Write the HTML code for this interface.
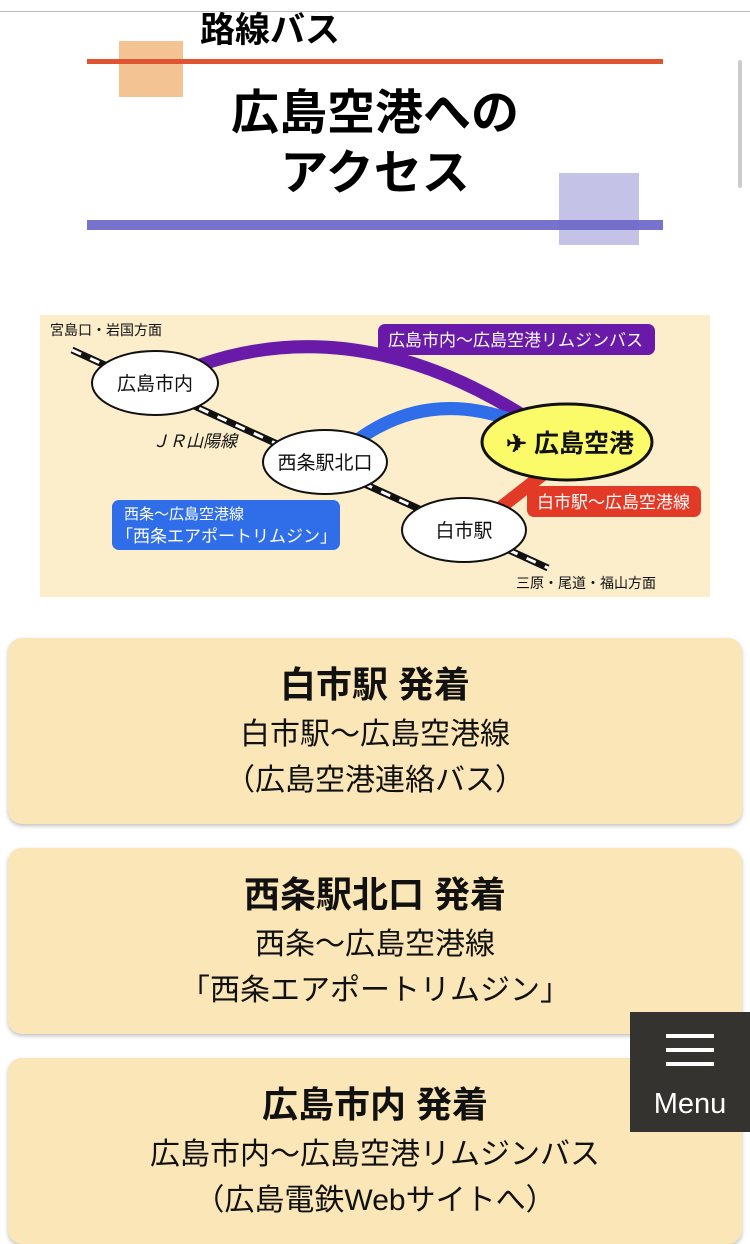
<!DOCTYPE html>
<html><head><meta charset="utf-8"><style>
body{margin:0;width:750px;height:1244px;overflow:hidden;background:#fff;font-family:"Liberation Sans","Noto Sans CJK JP",sans-serif;position:relative}
.a{position:absolute}
.card{position:absolute;left:8px;width:734px;height:186px;background:#fae6b6;border-radius:14px;box-shadow:0 2px 4px rgba(0,0,0,.25);text-align:center;color:#111}
.card b{display:block;font-size:36px;margin-top:24px;line-height:46px;margin-bottom:4px}
.card span{display:block;font-size:30px;line-height:46px}
</style></head><body>
<div class="a" style="left:0;top:11px;width:750px;height:1px;background:#bbb"></div>
<div class="a" style="left:738px;top:60px;width:4px;height:128px;background:#ccc;border-radius:2px"></div>
<div class="a" style="left:119px;top:41px;width:64px;height:56px;background:#f3c394"></div>
<div class="a" style="left:87px;top:59px;width:576px;height:5px;background:#e05432"></div>
<div class="a" style="left:200px;top:8px;font-size:35px;font-weight:bold;line-height:46px">路線バス</div>
<div class="a" style="left:0;top:84px;width:750px;text-align:center;font-size:48px;font-weight:bold;line-height:60px">広島空港への<br>アクセス</div>
<div class="a" style="left:559px;top:173px;width:80px;height:72px;background:#c4c3e7"></div>
<div class="a" style="left:87px;top:220px;width:576px;height:10px;background:#706ac8;opacity:.95"></div>
<svg class="a" style="left:0;top:0" width="750" height="620">
<rect x="40" y="315" width="670" height="282" fill="#fcedcb"/>
<line x1="72" y1="350" x2="548" y2="568" stroke="#111" stroke-width="7"/>
<line x1="72" y1="350" x2="548" y2="568" stroke="#fff" stroke-width="3" stroke-dasharray="10 10"/>
<path d="M200 365 Q360 310 530 420" stroke="#6a1aa8" stroke-width="13" fill="none"/>
<path d="M355 442 Q430 385 525 425" stroke="#2f6ee8" stroke-width="13" fill="none"/>
<line x1="500" y1="508" x2="555" y2="465" stroke="#e23a26" stroke-width="13"/>
<ellipse cx="155" cy="383" rx="63" ry="32" fill="#fff" stroke="#111" stroke-width="2"/>
<ellipse cx="325" cy="462" rx="62" ry="32" fill="#fff" stroke="#111" stroke-width="2"/>
<ellipse cx="464" cy="530" rx="62" ry="32" fill="#fff" stroke="#111" stroke-width="2"/>
<ellipse cx="567" cy="442" rx="85" ry="38" fill="#fbfb6a" stroke="#111" stroke-width="3"/>
<rect x="378" y="324" width="277" height="31" rx="7" fill="#6a1aa8"/>
<rect x="527" y="486" width="174" height="31" rx="7" fill="#e23a26"/>
<rect x="112" y="500" width="228" height="50" rx="7" fill="#2f6ee8"/>
<g font-family="Liberation Sans,Noto Sans CJK JP,sans-serif" fill="#111">
<text x="50" y="335" font-size="14">宮島口・岩国方面</text>
<text x="516" y="588" font-size="14">三原・尾道・福山方面</text>
<text x="152" y="447" font-size="17" font-style="italic">ＪＲ山陽線</text>
<text x="155" y="390" font-size="19" text-anchor="middle">広島市内</text>
<text x="325" y="469" font-size="19" text-anchor="middle">西条駅北口</text>
<text x="464" y="537" font-size="19" text-anchor="middle">白市駅</text>
<text x="570" y="452" font-size="25" font-weight="bold" text-anchor="middle">✈ 広島空港</text>
<text x="388" y="346" font-size="17" fill="#fff">広島市内～広島空港リムジンバス</text>
<text x="537" y="508" font-size="17" fill="#fff">白市駅～広島空港線</text>
<text x="124" y="519" font-size="15" fill="#fff">西条～広島空港線</text>
<text x="116" y="542" font-size="17" fill="#fff">「西条エアポートリムジン」</text>
</g>
</svg>
<div class="card" style="top:638px"><b>白市駅 発着</b><span>白市駅～広島空港線</span><span>（広島空港連絡バス）</span></div>
<div class="card" style="top:848px"><b>西条駅北口 発着</b><span>西条～広島空港線</span><span>「西条エアポートリムジン」</span></div>
<div class="card" style="top:1058px"><b>広島市内 発着</b><span>広島市内～広島空港リムジンバス</span><span>（広島電鉄Webサイトへ）</span></div>
<div class="a" style="left:630px;top:1012px;width:120px;height:120px;background:#35332f;color:#fff;text-align:center">
<div style="margin:22px auto 0;width:48px;height:4px;background:#fff;box-shadow:0 14px 0 #fff,0 28px 0 #fff"></div>
<div style="font-size:29px;margin-top:50px">Menu</div></div>
</body></html>
